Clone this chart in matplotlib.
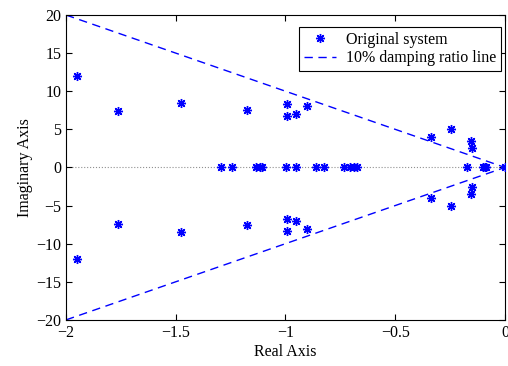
import numpy as np
import matplotlib
matplotlib.use('Agg')
import matplotlib.pyplot as plt

plt.rcParams['font.family'] = ['Liberation Serif', 'DejaVu Serif']
plt.rcParams['font.size'] = 11.5
plt.rcParams['axes.unicode_minus'] = True

# complex poles (upper half, mirrored below)
pole_re = [-1.95, -1.763, -1.476, -1.175, -0.992, -0.995, -0.952, -0.90,
           -0.336, -0.246, -0.156, -0.15]
pole_im = [12.0, 7.4, 8.45, 7.5, 8.3, 6.7, 7.0, 8.1, 4.0, 5.05, 3.5, 2.6]
# real poles
real_poles = [-1.294, -1.242, -1.136, -1.116, -1.106, -0.999, -0.951, -0.861,
              -0.823, -0.733, -0.706, -0.686, -0.676, -0.174, -0.1, -0.091,
              -0.085, 0.0]

# 10% damping ratio boundary
zeta_x = [-2, 0]
zeta_y = [20, 0]

xs = pole_re + pole_re + real_poles
ys = pole_im + [-v for v in pole_im] + [0] * len(real_poles)

fig = plt.figure(figsize=(5.08, 3.66), dpi=100)
ax = fig.add_axes([0.13, 0.126, 0.864, 0.833])

ax.axhline(0, color='#909090', linestyle=':', linewidth=0.8, zorder=1)
ax.plot(xs, ys, linestyle='none', marker=(8, 2, 0), color='blue',
        markersize=6.5, markeredgewidth=1.0, label='Original system', zorder=3)
ax.plot(zeta_x, zeta_y, '--', color='blue', linewidth=1,
        dashes=(6, 4), label='10% damping ratio line')
ax.plot(zeta_x, [-v for v in zeta_y], '--', color='blue', linewidth=1,
        dashes=(6, 4))

ax.set_xlim(-2, 0)
ax.set_ylim(-20, 20)
ax.set_xticks([-2, -1.5, -1, -0.5, 0])
ax.set_xticklabels(['−2', '−1.5', '−1', '−0.5', '0'])
ax.set_yticks(range(-20, 21, 5))
ax.tick_params(direction='in', top=True, right=True, length=4)
ax.set_xlabel('Real Axis', labelpad=2)
ax.set_ylabel('Imaginary Axis', labelpad=2)

leg = ax.legend(loc='upper right', bbox_to_anchor=(0.99, 0.96),
                borderaxespad=0, fancybox=False, framealpha=1,
                edgecolor='black', handlelength=2.0, borderpad=0.3,
                labelspacing=0.15, handletextpad=0.6)
leg.get_frame().set_linewidth(0.8)

fig.savefig('out.png', dpi=100)
